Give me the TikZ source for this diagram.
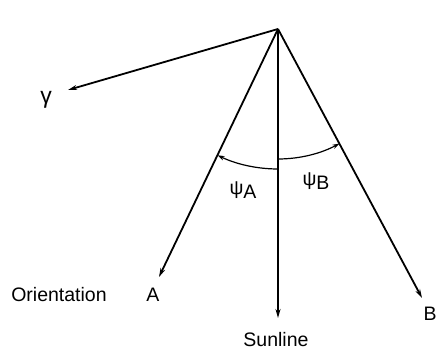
\documentclass[tikz,border=0pt]{standalone}
\usepackage{fontspec}
\setmainfont{Liberation Sans}
\usetikzlibrary{arrows.meta,calc}

\begin{document}
\begin{tikzpicture}[x=1pt,y=1pt,line width=1.8pt,
   axis/.style={-{Stealth[length=9pt,width=5pt]}},
   sweep/.style={line width=1.2pt,-{Stealth[length=7pt,width=4.5pt]}},
   lbl/.style={inner sep=0pt,font=\fontsize{19.5}{22}\selectfont}]
  \useasboundingbox (0,0) rectangle (438,356);
  % origin at the spacecraft, directions as polar offsets
  \coordinate (O) at (278,327);
  \coordinate (Ytip) at (68,266);
  \coordinate (Atip) at (159,79);
  \coordinate (Stip) at (278,38);
  \coordinate (Btip) at (422,58);

  % ---- direction vectors ----
  \draw[axis] (O) -- (Ytip);
  \draw[axis] (O) -- (Atip);
  \draw[axis] (O) -- (Stip);
  \draw[axis] (O) -- (Btip);

  % ---- angles from the sunline ----
  \coordinate (psiAstart) at ($(O)+(270:140)$);
  \coordinate (psiBstart) at ($(O)+(270:130)$);
  \draw[sweep] (psiAstart) arc[start angle=270,end angle=244.4,radius=140];
  \draw[sweep] (psiBstart) arc[start angle=270,end angle=298.2,radius=130];

  % ---- labels ----
  \node[lbl,font=\fontsize{23}{24}\selectfont] (ylbl) at (46,256) {γ};
  \node[lbl] (psiA) at (243,166) {ψ\raisebox{-4pt}{A}};
  \node[lbl] (psiB) at (316,175) {ψ\raisebox{-4pt}{B}};
  \node[lbl] (orient) at (59,61) {Orientation};
  \node[lbl] (albl) at (153,61) {A};
  \node[lbl] (slbl) at (276,16) {Sunline};
  \node[lbl] (blbl) at (430,42) {B};
\end{tikzpicture}
\end{document}
